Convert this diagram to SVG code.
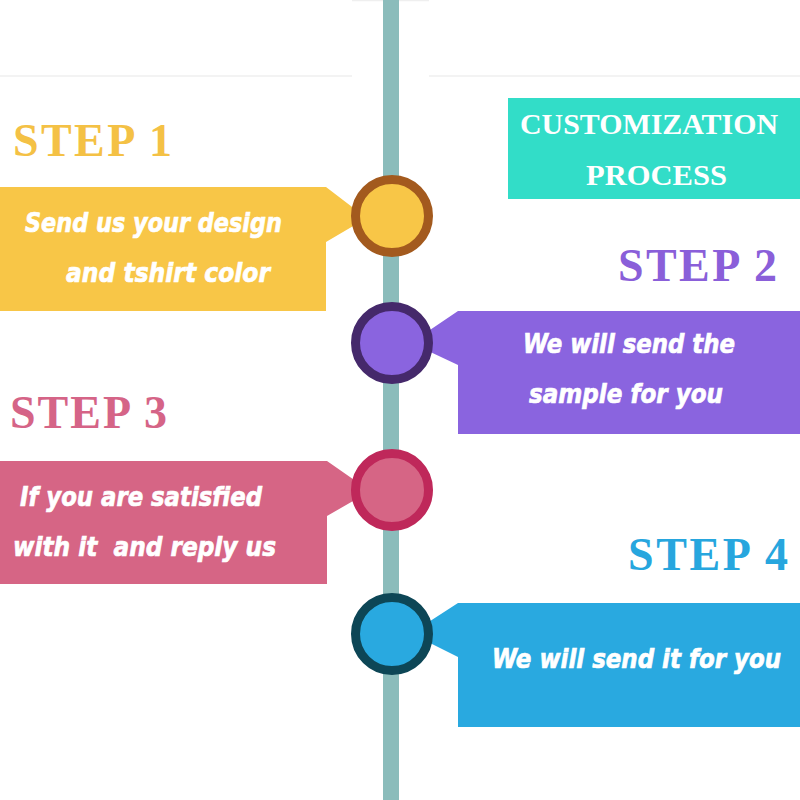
<svg xmlns="http://www.w3.org/2000/svg" width="800" height="800" viewBox="0 0 800 800">
<style>
.step{font-family:"Liberation Serif","Times New Roman",serif;font-weight:bold;font-size:46px}
.body{font-family:"DejaVu Sans",Verdana,sans-serif;font-weight:bold;font-style:italic;font-size:26px;fill:#ffffff;stroke:#ffffff;stroke-width:0.7}
.title{font-family:"Liberation Serif","Times New Roman",serif;font-weight:bold;font-size:30px;fill:#ffffff}
.ring{stroke-width:9}
.faint{stroke:#efefef;stroke-width:1.5;fill:none}
</style>
<rect width="800" height="800" fill="#ffffff"/>
<g id="background">
<line class="faint" x1="0" y1="76" x2="352" y2="76"/>
<line class="faint" x1="429" y1="76" x2="800" y2="76"/>
<line class="faint" x1="352" y1="0.5" x2="429" y2="0.5"/>
</g>
<g id="connectors">
<rect x="383" y="0" width="16" height="800" fill="#8BBCBB"/>
</g>
<g id="title">
<rect x="508" y="98" width="292" height="101" fill="#32DDC8"/>
<text class="title" x="520" y="134" textLength="258" lengthAdjust="spacingAndGlyphs">CUSTOMIZATION</text>
<text class="title" x="586" y="185" textLength="141" lengthAdjust="spacingAndGlyphs">PROCESS</text>
</g>
<g id="step1">
<text class="step" x="13" y="156" fill="#F4C145" textLength="159" lengthAdjust="spacing">STEP 1</text>
<polygon points="0,187 326,187 360,213 360,222 326,242 326,311 0,311" fill="#F8C647"/>
<text class="body" x="25" y="232" textLength="257" lengthAdjust="spacingAndGlyphs">Send us your design</text>
<text class="body" x="66" y="282" textLength="204" lengthAdjust="spacingAndGlyphs">and tshirt color</text>
<circle class="ring" cx="392" cy="216" r="36.5" fill="#F8C647" stroke="#A35A1E"/>
</g>
<g id="step2">
<text class="step" x="618" y="281" fill="#8A5FD9" textLength="159" lengthAdjust="spacing">STEP 2</text>
<polygon points="800,311 458,311 424,334 424,349 458,365 458,434 800,434" fill="#8A64DF"/>
<text class="body" x="523" y="353" textLength="212" lengthAdjust="spacingAndGlyphs">We will send the</text>
<text class="body" x="529" y="403" textLength="194" lengthAdjust="spacingAndGlyphs">sample for you</text>
<circle class="ring" cx="392" cy="343" r="36.5" fill="#8A64DF" stroke="#45296B"/>
</g>
<g id="step3">
<text class="step" x="10" y="428" fill="#D56487" textLength="157" lengthAdjust="spacing">STEP 3</text>
<polygon points="0,461 327,461 360,484 360,497 327,516 327,584 0,584" fill="#D66585"/>
<text class="body" x="20" y="506" textLength="242" lengthAdjust="spacingAndGlyphs">If you are satisfied</text>
<text class="body" x="13" y="556" textLength="263" lengthAdjust="spacingAndGlyphs" style="white-space:pre">with it  and reply us</text>
<circle class="ring" cx="392" cy="490" r="36.5" fill="#D66585" stroke="#BF285A"/>
</g>
<g id="step4">
<text class="step" x="628" y="570" fill="#27A6DE" textLength="160" lengthAdjust="spacing">STEP 4</text>
<polygon points="800,603 458,603 424,625 424,640 458,657 458,727 800,727" fill="#29A9E0"/>
<text class="body" x="492" y="668" textLength="289" lengthAdjust="spacingAndGlyphs">We will send it for you</text>
<circle class="ring" cx="392" cy="634" r="36.5" fill="#29A9E0" stroke="#0D4656"/>
</g>
</svg>
